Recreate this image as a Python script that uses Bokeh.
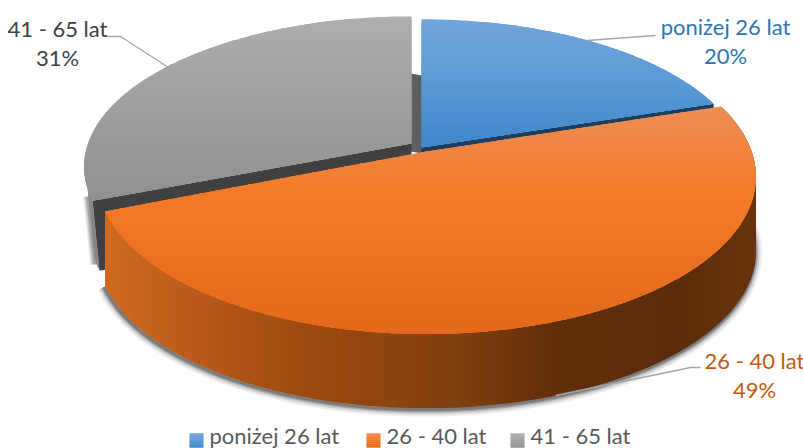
import math
from bokeh.plotting import figure
from bokeh.models import Range1d
from bokeh.core.properties import value
from bokeh.embed import file_html
from bokeh.resources import INLINE

categories = ["poniżej 26 lat", "26 - 40 lat", "41 - 65 lat"]
values = [20, 49, 31]
W, H = 803, 448
FONT = value("Lato")
label_colors = ["#2e75b6", "#c55a11", "#404040"]

# projection of the tilted disc onto the page, in page pixels
CX, CY, RX, RY, PERSP, DEPTH = 417.0, 150.0, 330.0, 153.0, 0.162, 74.0
offsets = [(4, -3), (9, 1), (-6, -7)]
radius_k = [0.976, 0.985, 0.98]
radius_ky = [0.97, 1.0, 0.96]
top_stops = [
    [(0.0, "#71a5d9"), (0.5, "#5a9ad6"), (1.0, "#3f86c9")],
    [(0.0, "#ee8d58"), (0.35, "#f37c2b"), (1.0, "#e4681a")],
    [(0.0, "#aeaeae"), (1.0, "#909090")],
]
wall_stops = [(104, "#cf6a1f"), (200, "#b9591a"), (320, "#99490f"), (450, "#84400f"),
              (560, "#5f2d0a"), (680, "#5c2c0a"), (756, "#6a340c")]


def hex2rgb(c):
    return tuple(int(c[i:i + 2], 16) for i in (1, 3, 5))


def lerp(stops, t):
    if t <= stops[0][0]:
        return stops[0][1]
    for (a, ca), (b, cb) in zip(stops, stops[1:]):
        if t <= b:
            f = (t - a) / (b - a)
            x, y = hex2rgb(ca), hex2rgb(cb)
            return "#%02x%02x%02x" % tuple(round(x[i] + (y[i] - x[i]) * f) for i in range(3))
    return stops[-1][1]


def proj(i, th, r=1.0):
    u, v = r * radius_k[i] * math.sin(th), r * radius_ky[i] * math.cos(th)
    s = 1 / (1 + PERSP * v)
    return CX + offsets[i][0] + RX * u * s, CY + offsets[i][1] - RY * v * s


def arc(i, a, b, n=120):
    return [proj(i, a + (b - a) * j / n) for j in range(n + 1)]


def clip(poly, y0, y1):
    def half(pts, keep, cross):
        out = []
        for j, p in enumerate(pts):
            q = pts[(j + 1) % len(pts)]
            if keep(p):
                out.append(p)
            if keep(p) != keep(q):
                out.append(cross(p, q))
        return out

    def cr(yy):
        return lambda p, q: (p[0] + (q[0] - p[0]) * (yy - p[1]) / (q[1] - p[1]), yy)

    r = half(poly, lambda p: p[1] >= y0, cr(y0))
    return half(r, lambda p: p[1] <= y1, cr(y1)) if r else r


p = figure(width=W, height=H, x_range=Range1d(0, W), y_range=Range1d(H, 0),
           output_backend="svg", toolbar_location=None, min_border=0,
           styles={"position": "absolute", "left": "0", "top": "0"})
p.axis.visible = False
p.grid.visible = False
p.outline_line_color = None

total = sum(values)
angles, a = [], 0.0
for val in values:
    angles.append((a, a + 2 * math.pi * val / total))
    a += 2 * math.pi * val / total
tip = [proj(i, 0, 0) for i in range(3)]

# shadow below the wall of the large slice
a1, b1 = angles[1]
low = [(x, y + DEPTH) for x, y in arc(1, a1 + 0.12, b1)]
for w, al in ((14, 0.09), (10, 0.14), (6, 0.30), (3, 0.35)):
    p.line([q[0] - 1 for q in low], [q[1] + 1.5 for q in low], line_color="#333333", line_width=w, line_alpha=al)

# dark inner block seen through the gap at twelve o'clock
xl, xr = tip[2][0], tip[0][0]
p.patch([xl - 1, xr + 1, xr + 1, xl - 1], [73, 75, tip[0][1] + 6, tip[2][1] + 8], fill_color="#5f5f5f", line_color=None)

# outer wall and cut faces of the gray slice
a2, b2 = angles[2]
left = arc(2, a2, a2 + 0.08, 12)
for w, al in ((9, 0.10), (6, 0.16), (3, 0.25)):
    p.line([left[-1][0], left[-1][0] + 7], [left[-1][1] + 8, left[-1][1] + DEPTH + 2],
           line_color="#333333", line_width=w, line_alpha=al)
p.patch([q[0] for q in left] + [q[0] + 7 for q in left[::-1]],
        [q[1] for q in left] + [q[1] + DEPTH - 4 for q in left[::-1]], fill_color="#868686", line_color=None)
e = proj(2, a2)
p.patch([tip[2][0], e[0], e[0] + 7, tip[2][0]], [tip[2][1], e[1], e[1] + DEPTH - 4, tip[2][1] + DEPTH],
        fill_color="#404040", line_color=None)

# cut face of the blue slice
a0, b0 = angles[0]
e = proj(0, b0)
p.patch([tip[0][0], e[0], e[0], tip[0][0]], [tip[0][1], e[1], e[1] + DEPTH, tip[0][1] + DEPTH],
        fill_color="#1c3f60", line_color=None)

# wall of the large slice, banded by x; each band overlaps the next one so no seam shows
pts = arc(1, a1, b1, 240)
for j in range(len(pts) - 1):
    q0, q1 = pts[j], pts[min(j + 2, len(pts) - 1)]
    c = lerp(wall_stops, (pts[j][0] + pts[j + 1][0]) / 2)
    p.patch([q0[0], q1[0], q1[0], q0[0]], [q0[1], q1[1], q1[1] + DEPTH, q0[1] + DEPTH],
            fill_color=c, line_color=None)

# top faces with vertical shading, painted from the top down so bands overlap
for i in (2, 0, 1):
    a, b = angles[i]
    poly = [tip[i]] + arc(i, a, b)
    ys = [q[1] for q in poly]
    y0, y1 = min(ys), max(ys)
    n = int((y1 - y0) / 3) + 1
    for j in range(n):
        ya = y0 + (y1 - y0) * j / n
        band = clip(poly, ya, min(y1, ya + (y1 - y0) * 2.5 / n))
        if len(band) < 3:
            continue
        c = lerp(top_stops[i], (j + 0.5) / n)
        p.patch([q[0] for q in band], [q[1] for q in band], fill_color=c, line_color=None)

# leader lines
leader_x = [[105, 120, 168], [655, 586], [700, 690, 555]]
leader_y = [[36, 36, 67], [35, 40], [367, 367, 395]]
p.multi_line(leader_x, leader_y, line_color="#a6a6a6", line_width=1.3)

# data labels
label_x = [725, 754, 57]
label_y = [26, 360, 28]
pct_y = [55, 389, 57]
pct = [f"{v}%" for v in values]
for i in range(3):
    p.text([label_x[i]], [label_y[i]], text=[categories[i]], text_font=FONT, text_font_size="22px",
           text_color=label_colors[i], text_align="center", text_baseline="middle")
    p.text([label_x[i]], [pct_y[i]], text=[pct[i]], text_font=FONT, text_font_size="22px",
           text_color=label_colors[i], text_align="center", text_baseline="middle")

# legend: shaded keys
leg_x = [196, 373, 517]
leg_tx = [209, 386, 530]
for i in range(3):
    for j in range(7):
        p.rect([leg_x[i]], [434 + j * 2], width=14, height=2.4, fill_color=lerp(top_stops[i], (j + 0.5) / 7), line_color=None)
p.text(leg_tx, [434.5] * 3, text=categories, text_font=FONT, text_font_size="22px",
       text_color="#595959", text_align="left", text_baseline="middle")

open("out.html", "w").write(file_html(p, INLINE))
